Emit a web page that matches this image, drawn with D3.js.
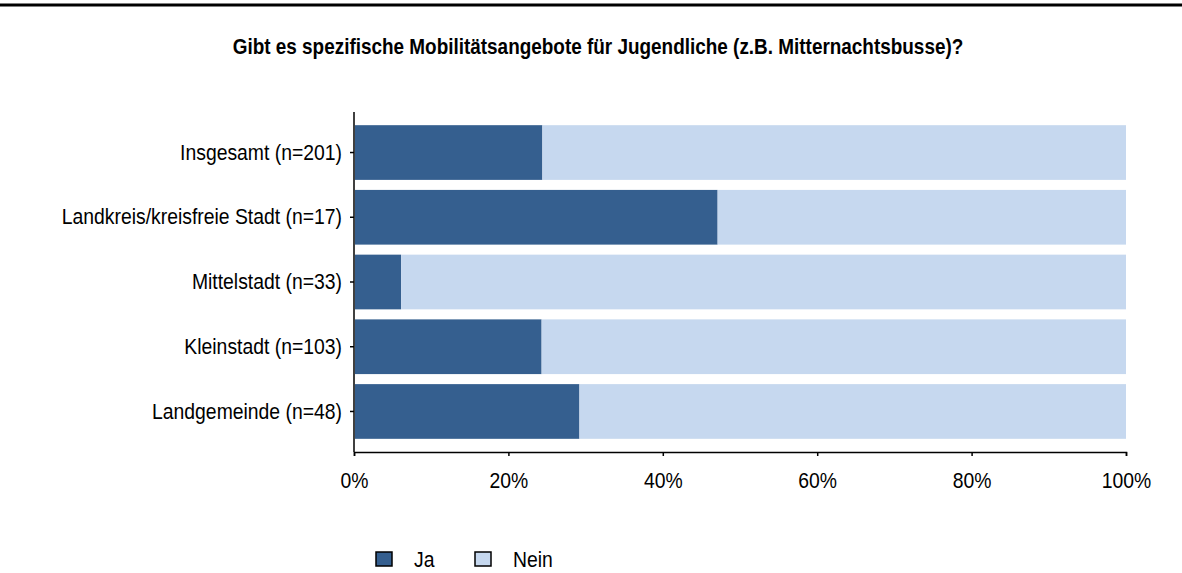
<!DOCTYPE html>
<html>
<head>
<meta charset="utf-8">
<script src="https://d3js.org/d3.v7.min.js"></script>
<style>
  body { margin: 0; background: #fff; }
  text { font-family: "Liberation Sans", Arial, sans-serif; fill: #000; }
</style>
</head>
<body>
<svg width="1182" height="573"></svg>
<script>
// data (share in percent)
const categories = ['Insgesamt (n=201)', 'Landkreis/kreisfreie Stadt (n=17)', 'Mittelstadt (n=33)', 'Kleinstadt (n=103)', 'Landgemeinde (n=48)'];
const ja = [24.4, 47.1, 6.1, 24.3, 29.2];
const nein = [75.6, 52.9, 93.9, 75.7, 70.8];
const seriesNames = ['Ja', 'Nein'];
const tickValues = [0, 20, 40, 60, 80, 100];

const colors = ['#355f8f', '#c6d8ef'];
// the original font is narrow, so squeeze the text a bit
const squeeze = 0.88;

const svg = d3.select('svg');
const width = +svg.attr('width');

// top rule
svg.append('line')
    .attr('x1', 0).attr('x2', width)
    .attr('y1', 5).attr('y2', 5)
    .attr('stroke', '#000').attr('stroke-width', 3);

// title
svg.append('text')
    .attr('transform', `translate(598,54) scale(${squeeze},1)`)
    .attr('text-anchor', 'middle')
    .style('font-size', '21.5px')
    .style('font-weight', 'bold')
    .text('Gibt es spezifische Mobilitätsangebote für Jugendliche (z.B. Mitternachtsbusse)?');

const x = d3.scaleLinear().domain([0, 100]).range([354, 1126]);
const y = d3.scaleBand().domain(categories).range([120, 444]).paddingInner(0.155).paddingOuter(0.08);

const rows = categories.map((c, i) => ({cat: c, values: [ja[i], nein[i]]}));
const stack = d3.stack().keys([0, 1]).value((d, k) => d.values[k]);
const layers = stack(rows);

const g = svg.append('g');
layers.forEach((layer, k) => {
  g.selectAll(null).data(layer).enter().append('rect')
      .attr('x', d => x(d[0]) + (k === 0 ? 1 : 0))
      .attr('y', (d, i) => y(categories[i]))
      .attr('width', d => x(d[1]) - x(d[0]) - (k === 0 ? 1 : 0))
      .attr('height', y.bandwidth())
      .attr('fill', colors[k]);
});

// axes
const xAxis = svg.append('g')
    .attr('transform', 'translate(0,452)')
    .call(d3.axisBottom(x).tickValues(tickValues).tickFormat(d => d + '%').tickSize(4).tickSizeOuter(4));
xAxis.select('.domain').attr('stroke', '#000').attr('stroke-width', 1.5);
xAxis.selectAll('.tick line').attr('stroke', '#000').attr('stroke-width', 1.5);
xAxis.selectAll('.tick text')
    .attr('y', 0).attr('dy', null)
    .attr('transform', `translate(0,36) scale(${squeeze},1)`)
    .style('font-size', '22px')
    .style('font-family', '"Liberation Sans", Arial, sans-serif');

const yAxis = svg.append('g')
    .attr('transform', 'translate(354,0)')
    .call(d3.axisLeft(y).tickSize(4).tickSizeOuter(0));
yAxis.select('.domain').attr('d', 'M0,112V452').attr('stroke', '#000').attr('stroke-width', 1.5);
yAxis.selectAll('.tick line').attr('stroke', '#000').attr('stroke-width', 1.5);
yAxis.selectAll('.tick text')
    .attr('x', 0)
    .attr('transform', `translate(-12,0) scale(${squeeze},1)`)
    .style('font-size', '22px')
    .style('font-family', '"Liberation Sans", Arial, sans-serif');

// legend
const legend = svg.append('g');
seriesNames.forEach((name, k) => {
  const lx = 376 + k * 99;
  legend.append('rect')
      .attr('x', lx).attr('y', 552)
      .attr('width', 16).attr('height', 14)
      .attr('fill', colors[k])
      .attr('stroke', '#000').attr('stroke-width', 1.5);
  legend.append('text')
      .attr('transform', `translate(${lx + 38},567) scale(${squeeze},1)`)
      .style('font-size', '22px')
      .text(name);
});
</script>
</body>
</html>
